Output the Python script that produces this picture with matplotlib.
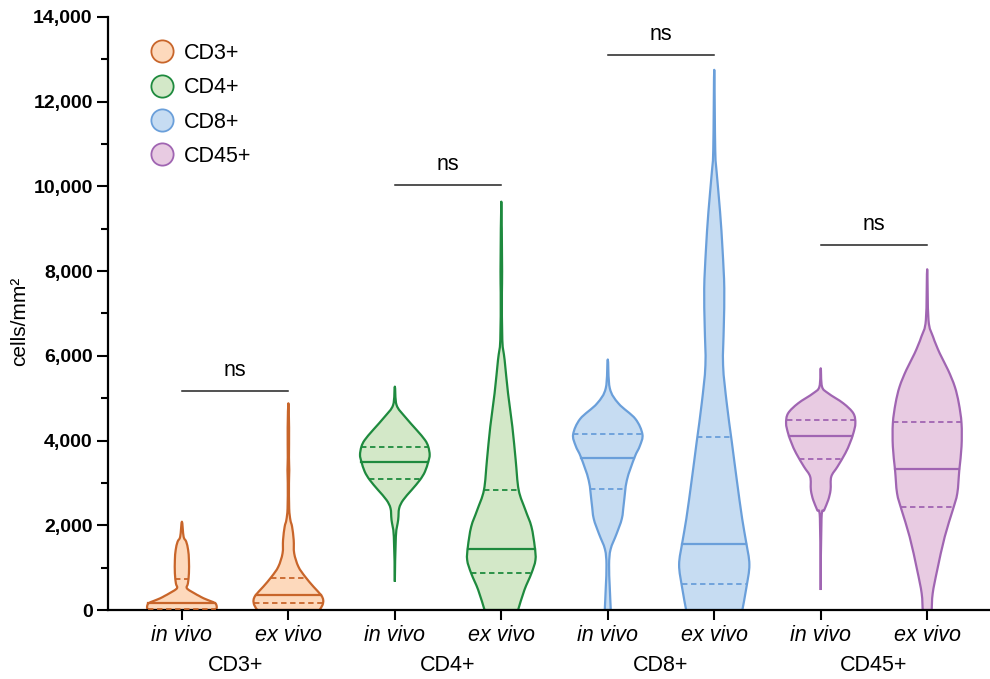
import numpy as np
import matplotlib.pyplot as plt
from matplotlib.lines import Line2D
from matplotlib.path import Path
from matplotlib.patches import PathPatch

plt.rcParams['font.family'] = ['Liberation Sans', 'DejaVu Sans']

# --------------------------
# DATA
# --------------------------
groups = ["CD3+", "CD4+", "CD8+", "CD45+"]
conditions = ["in vivo", "ex vivo"]

fill_colors = ["#FDD9BC", "#D3E8C8", "#C6DCF2", "#E8CBE2"]
edge_colors = ["#C8652A", "#1E8A3E", "#6A9FDA", "#A065B2"]

# violin outlines: cell density levels and half-widths (pixels of a 35 px max)
cd3_in_vals = [0, 16, 79, 158, 215, 276, 335, 394, 512, 630, 866, 1180, 1417, 1613, 1731, 2085]
cd3_in_w = [31, 34, 34.7, 33.3, 28, 21.7, 17, 12.5, 5, 6, 7, 7, 6.2, 4.3, 1.7, 0]
cd3_ex_vals = [0, 118, 236, 354, 551, 787, 1023, 1338, 1653, 1967, 2125, 2400, 3000, 3305, 3600, 4300, 4880]
cd3_ex_w = [31, 34, 34.7, 32.5, 25, 16.7, 10, 5.8, 5.3, 3.7, 2, 0.8, 0.6, 0.9, 0.6, 0.7, 0]

cd4_in_vals = [669, 1731, 2125, 2400, 2597, 2833, 3070, 3266, 3502, 3660, 3856, 4014, 4250, 4565, 4840, 5273]
cd4_in_w = [0, 1, 3.3, 4.3, 8.3, 16.7, 25, 30, 33.3, 34.7, 33.3, 30, 21.7, 10, 1.7, 0]
cd4_ex_vals = [0, 472, 866, 1180, 1495, 1967, 2361, 2833, 3542, 4328, 5116, 5903, 6375, 7500, 8000, 9640]
cd4_ex_w = [16.7, 23, 30, 34, 33.3, 30, 24, 17.3, 14.3, 11, 6.7, 3.3, 1, 0.6, 0.8, 0]

cd8_in_vals = [0, 527, 1070, 1433, 1794, 2155, 2519, 3062, 3605, 3877, 4148, 4512, 4873, 5237, 5914]
cd8_in_w = [3, 2, 1.3, 2.8, 8.7, 14, 16, 19, 26.7, 32, 34.5, 27.5, 10.8, 2, 0]
cd8_ex_vals = [0, 527, 1070, 1613, 2156, 3062, 3968, 4873, 5779, 6685, 7590, 8497, 9402, 10308, 10851, 12752]
cd8_ex_w = [28, 32, 35, 31.7, 27.8, 22.5, 17.5, 12.5, 8.8, 9.5, 10, 8.3, 5.8, 2.5, 1, 0]

cd45_in_vals = [472, 2164, 2361, 2597, 2833, 3147, 3384, 3700, 3936, 4172, 4408, 4644, 4880, 5116, 5273, 5706]
cd45_in_w = [0, 0.8, 3.5, 7.5, 9.8, 10.5, 16.7, 24.5, 29, 32.5, 34.5, 32.5, 22.5, 7.5, 1.3, 0]
cd45_ex_vals = [0, 394, 944, 1731, 2361, 2755, 3305, 3856, 4408, 4880, 5273, 5666, 6060, 6453, 6847, 8044]
cd45_ex_w = [4.5, 5.5, 10, 17.5, 25.5, 30, 32, 34.2, 34.2, 31.5, 27.5, 20.8, 12.5, 5.8, 1.3, 0]

# quartiles (Q1, median, Q3)
quartiles = [
    [20, 158, 740], [158, 354, 763],
    [3085, 3502, 3856], [866, 1440, 2833],
    [2854, 3596, 4158], [616, 1568, 4078],
    [3573, 4108, 4486], [2424, 3321, 4431],
]

# significance bars per group: height and label
sig_heights = [5180, 10030, 13100, 8620]
sig_labels = ["ns", "ns", "ns", "ns"]

profiles = [
    (cd3_in_vals, cd3_in_w), (cd3_ex_vals, cd3_ex_w),
    (cd4_in_vals, cd4_in_w), (cd4_ex_vals, cd4_ex_w),
    (cd8_in_vals, cd8_in_w), (cd8_ex_vals, cd8_ex_w),
    (cd45_in_vals, cd45_in_w), (cd45_ex_vals, cd45_ex_w),
]


def smooth_path(pts):
    """Catmull-Rom through pts, returned as cubic Bezier path pieces."""
    pts = np.asarray(pts, dtype=float)
    verts = [pts[0]]
    codes = [Path.MOVETO]
    n = len(pts)
    for k in range(n - 1):
        p0 = pts[max(k - 1, 0)]
        p1 = pts[k]
        p2 = pts[k + 1]
        p3 = pts[min(k + 2, n - 1)]
        c1 = p1 + (p2 - p0) / 6.0
        c2 = p2 - (p3 - p1) / 6.0
        verts += [c1, c2, p2]
        codes += [Path.CURVE4] * 3
    return verts, codes


# --------------------------
# FIGURE
# --------------------------
fig = plt.figure(figsize=(9.9, 6.79), dpi=100)
ax = fig.add_axes([0.109, 0.1016, 0.891, 0.8734])

max_half = 0.33  # data units for the widest part of a violin

for i, (vals, w) in enumerate(profiles):
    g = i // 2
    vals = np.array(vals, dtype=float)
    half = np.array(w, dtype=float) / 35.0 * max_half
    # outline: up the left side, down the right side, then closed along the bottom
    left = np.column_stack([i - half, vals])
    right = np.column_stack([i + half, vals])[::-1]
    outline = np.vstack([left, right[1:]])
    verts, codes = smooth_path(outline)
    verts.append(outline[0])
    codes.append(Path.LINETO)
    ax.add_patch(PathPatch(Path(verts, codes), facecolor=fill_colors[g],
                           edgecolor=edge_colors[g], linewidth=1.6,
                           joinstyle='round', zorder=2))
    q1, med, q3 = quartiles[i]
    for q, ls in [(q1, (0, (3, 2))), (med, '-'), (q3, (0, (3, 2)))]:
        hw = np.interp(q, vals, half)
        ax.plot([i - hw, i + hw], [q, q], color=edge_colors[g],
                linestyle=ls, linewidth=1.6 if ls == '-' else 1.3, zorder=3)

for g, (h, lab) in enumerate(zip(sig_heights, sig_labels)):
    x0, x1 = 2 * g, 2 * g + 1
    ax.plot([x0, x1], [h, h], color="#222222", linewidth=1.1)
    ax.text((x0 + x1) / 2, h + 230, lab, ha='center', va='bottom', fontsize=15.5)

# axes styling
ax.set_xlim(-0.695, 7.59)
ax.set_ylim(0, 14000)
ax.set_yticks(np.arange(0, 14001, 2000))
ax.set_yticks(np.arange(1000, 14000, 2000), minor=True)
ax.set_yticklabels([f"{v:,}" for v in range(0, 14001, 2000)], fontweight='bold', fontsize=14)
ax.set_xticks(range(8))
ax.set_xticklabels(conditions * 4, fontstyle='italic', fontsize=15.5)
ax.tick_params(axis='y', which='major', length=8, width=1.5, direction='out', pad=3)
ax.tick_params(axis='y', which='minor', length=5, width=1.5, direction='out')
ax.tick_params(axis='x', length=7, width=1.5, direction='out', pad=4)
for s in ['top', 'right']:
    ax.spines[s].set_visible(False)
for s in ['left', 'bottom']:
    ax.spines[s].set_linewidth(1.6)
ax.set_ylabel("cells/mm²", fontsize=15)
ax.yaxis.set_label_coords(-0.089, 0.487)

for g, name in enumerate(groups):
    ax.text(2 * g + 0.5, -0.093, name, transform=ax.get_xaxis_transform(),
            ha='center', va='center', fontsize=15.5)

handles = [Line2D([], [], marker='o', linestyle='none', markersize=16,
                  markerfacecolor=fc, markeredgecolor=ec, markeredgewidth=1.3)
           for fc, ec in zip(fill_colors, edge_colors)]
ax.legend(handles, groups, loc='upper left', bbox_to_anchor=(0.032, 0.978),
          frameon=False, fontsize=15.5, handlelength=1.2, handletextpad=0.4,
          labelspacing=0.62, borderaxespad=0.2)

fig.savefig("out.png", dpi=100)
